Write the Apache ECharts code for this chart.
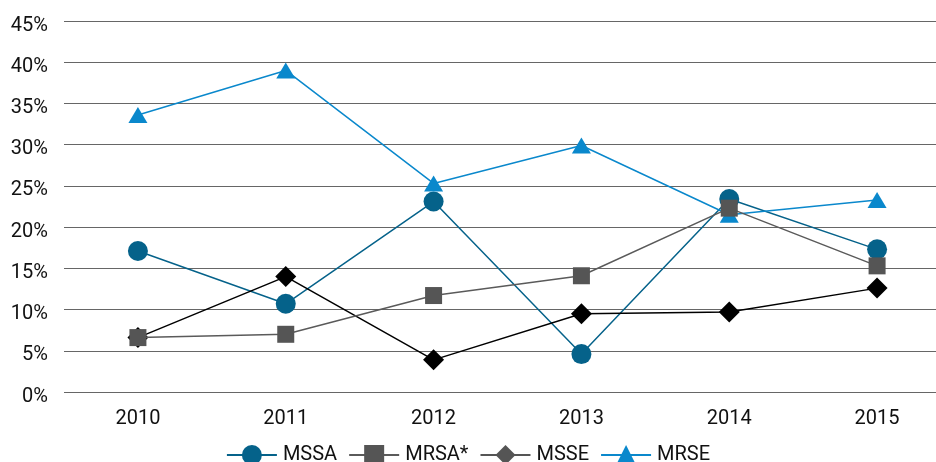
<!DOCTYPE html>
<html>
<head>
<meta charset="utf-8">
<script src="https://cdn.jsdelivr.net/npm/echarts@6/dist/echarts.min.js"></script>
<style>html,body{margin:0;padding:0;background:#fff;}#c{width:936px;height:462px;}</style>
</head>
<body>
<div id="c"></div>
<script>
const years = ['2010', '2011', '2012', '2013', '2014', '2015'];
const mssa = [17.1, 10.7, 23.1, 4.6, 23.4, 17.3];
const mrsa = [6.6, 7.0, 11.7, 14.1, 22.3, 15.3];
const msse = [6.6, 14.0, 3.9, 9.5, 9.7, 12.6];
const mrse = [33.6, 39.0, 25.3, 29.9, 21.5, 23.3];
const yTicks = [0, 5, 10, 15, 20, 25, 30, 35, 40, 45];

const FONT = 'Roboto, "Liberation Sans", sans-serif';
const chart = echarts.init(document.getElementById('c'), null, {renderer: 'canvas'});
chart.setOption({
  animation: false,
  backgroundColor: '#fff',
  grid: {left: 64, top: 21, width: 887, height: 371, containLabel: false, outerBoundsMode: 'none'},
  xAxis: {
    type: 'category', data: years, boundaryGap: true,
    axisLine: {show: false}, axisTick: {show: false},
    axisLabel: {color: '#111', fontFamily: FONT, fontSize: 20, margin: 17}
  },
  yAxis: {
    type: 'value', min: yTicks[0], max: yTicks[yTicks.length - 1], interval: 5,
    axisLine: {show: false}, axisTick: {show: false},
    axisLabel: {color: '#111', fontFamily: FONT, fontSize: 20, margin: 16, verticalAlign: 'top', lineHeight: 9, formatter: v => v + '%'},
    splitLine: {lineStyle: {color: '#666', width: 1.2}}
  },
  legend: {
    bottom: -8, left: 'center', itemWidth: 50, itemHeight: 25, itemGap: 11,
    textStyle: {color: '#111', fontFamily: FONT, fontSize: 20, padding: [0, 0, 0, 1]},
    data: [
      {name: 'MSSA'},
      {name: 'MRSA*'},
      {name: 'MSSE', itemStyle: {color: '#555'}, lineStyle: {color: '#555'}},
      {name: 'MRSE'}
    ]
  },
  series: [
    {name: 'MSSA', type: 'line', data: mssa, symbol: 'circle', symbolSize: 20, z: 3,
     itemStyle: {color: '#05628a'}, lineStyle: {color: '#05628a', width: 1.5}},
    {name: 'MSSE', type: 'line', data: msse, symbol: 'diamond', symbolSize: 21, z: 4,
     itemStyle: {color: '#000'}, lineStyle: {color: '#000', width: 1.5}},
    {name: 'MRSE', type: 'line', data: mrse, symbol: 'triangle', symbolSize: [19, 16], z: 5,
     itemStyle: {color: '#0a88cc'}, lineStyle: {color: '#0a88cc', width: 1.5}},
    {name: 'MRSA*', type: 'line', data: mrsa, symbol: 'rect', symbolSize: 17, z: 6,
     itemStyle: {color: '#555'}, lineStyle: {color: '#5a5a5a', width: 1.5}}
  ]
});
</script>
</body>
</html>
